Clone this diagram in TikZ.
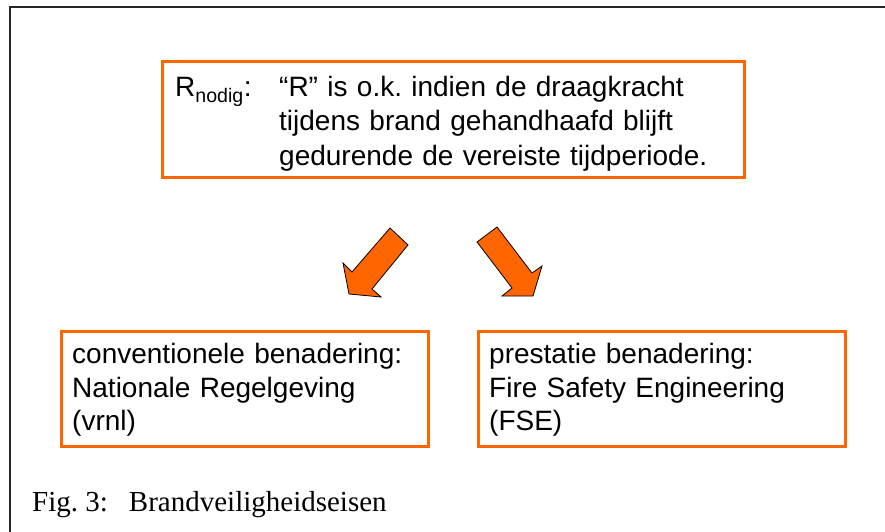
\documentclass[tikz,border=0pt]{standalone}
\usepackage{fontspec}
\setmainfont{Liberation Sans}
\newfontfamily\capfont{Liberation Serif}
\definecolor{orng}{HTML}{FF6600}
\begin{document}
\frenchspacing
\begin{tikzpicture}[x=1pt,y=-1pt,
  obox/.style={draw=orng, line width=2.6pt, fill=white, inner sep=0pt, anchor=north west},
  txt/.style={inner sep=0pt, anchor=base west, align=left, font=\fontsize{28}{34}\selectfont},
  btxt/.style={txt, font=\fontsize{28}{33.5}\selectfont},
  blockarrow/.style={fill=orng, draw=black, line width=0.8pt, line join=miter}]
\useasboundingbox (0,0) rectangle (885,532);
% frame
\draw[line width=2pt, black!85] (10,532) -- (10,7) -- (885,7);
% top box
\node[obox, minimum width=582pt, minimum height=116pt] (topbox) at (161,60) {};
\node[txt] (rsym) at (175,97) {R\textsubscript{nodig}:};
\node[txt, text width=440pt] (rtext) at (279,97) {“R” is o.k. indien de draagkracht\\tijdens brand gehandhaafd blijft\\gedurende de vereiste tijdperiode.};
% arrows
\filldraw[blockarrow] (390,228) -- (408,245) -- (372,289) -- (381,297) -- (349,294) -- (343,263) -- (352,272) -- cycle;
\filldraw[blockarrow] (497,227) -- (532,273) -- (542,266) -- (533,296) -- (502,296) -- (512,288) -- (477,242) -- cycle;
% bottom boxes
\node[obox, minimum width=367pt, minimum height=115pt] (convbox) at (60,330) {};
\node[btxt, text width=340pt] (convtext) at (72,363.5) {conventionele benadering:\\Nationale Regelgeving\\(vrnl)};
\node[obox, minimum width=367pt, minimum height=115pt] (perfbox) at (477,330) {};
\node[btxt, text width=340pt] (perftext) at (489,363.5) {prestatie benadering:\\Fire Safety Engineering\\(FSE)};
% caption
\node[inner sep=0pt, anchor=base west, font=\capfont\fontsize{29}{33}\selectfont] (caption) at (32,511) {Fig. 3:\hspace{21pt}Brandveiligheidseisen};
\end{tikzpicture}
\end{document}
